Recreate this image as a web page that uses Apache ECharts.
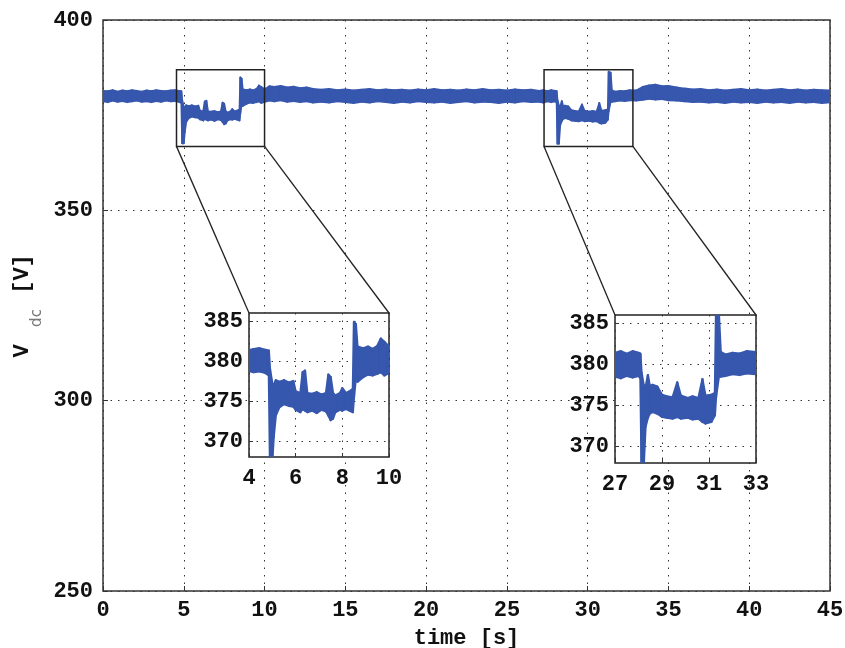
<!DOCTYPE html>
<html>
<head>
<meta charset="utf-8">
<script src="https://cdn.jsdelivr.net/npm/echarts@6/dist/echarts.min.js"></script>
<style>
  html, body { margin: 0; padding: 0; background: #fff; }
  #main { width: 845px; height: 648px; }
</style>
</head>
<body>
<div id="main"></div>
<script>
// time [s] with the lower / upper edge of the Vdc trace [V]
const time = [
  0.0, 0.3, 0.6, 0.9, 1.2, 1.5, 1.8, 2.1, 2.4, 2.7, 3.0, 3.3, 3.6, 3.9, 4.2, 4.45, 4.7, 4.85,
  4.9, 5.0, 5.06, 5.15, 5.3, 5.5, 5.7, 5.9, 6.0, 6.2, 6.3, 6.4, 6.5, 6.7, 6.9, 7.1, 7.3, 7.4,
  7.5, 7.6, 7.7, 7.9, 8.0, 8.15, 8.3, 8.45, 8.5, 8.58, 8.65, 8.9, 9.1, 9.3, 9.5, 9.65, 9.8, 10.0,
  10.3, 10.6, 11.0, 11.4, 11.8, 12.2, 12.6, 13.0, 13.5, 14.0, 14.5, 15.0, 15.5, 16.0, 16.5, 17.0,
  17.5, 18.0, 18.5, 19.0, 19.5, 20.0, 20.5, 21.0, 21.5, 22.0, 22.5, 23.0, 23.5, 24.0, 24.5, 25.0,
  25.5, 26.0, 26.5, 27.0, 27.25, 27.5, 27.75, 28.0, 28.08, 28.13, 28.22, 28.3, 28.4, 28.48, 28.6,
  28.8, 29.0, 29.2, 29.45, 29.65, 29.8, 30.1, 30.3, 30.55, 30.72, 30.85, 31.1, 31.25, 31.3, 31.42,
  31.5, 31.7, 32.0, 32.3, 32.6, 33.0, 33.4, 33.8, 34.2, 34.6, 35.0, 35.5, 36.0, 36.5, 37.0, 37.5,
  38.0, 38.5, 39.0, 39.5, 40.0, 40.5, 41.0, 41.5, 42.0, 42.5, 43.0, 43.5, 44.0, 44.5, 45.0
];
const vLow = [
  378.6, 378.4, 378.8, 378.5, 378.7, 378.4, 378.6, 378.8, 378.5, 378.6, 378.4, 378.7, 378.5, 378.8, 378.6, 378.7, 378.5, 378.2,
  367.6, 367.6, 370.5, 373.2, 374.2, 374.6, 374.4, 374.3, 373.9, 373.6, 374.0, 373.8, 373.6, 373.8, 373.5, 373.9, 373.7, 373.2,
  372.6, 372.8, 373.6, 373.9, 373.8, 374.0, 373.8, 373.6, 375.5, 377.8, 377.4, 378.0, 378.3, 378.2, 378.4, 378.6, 378.2, 378.5,
  378.8, 378.6, 378.9, 378.5, 378.7, 378.4, 378.6, 378.3, 378.5, 378.3, 378.6, 378.4, 378.2, 378.5, 378.3, 378.6,
  378.4, 378.2, 378.5, 378.3, 378.6, 378.4, 378.3, 378.5, 378.2, 378.4, 378.6, 378.3, 378.5, 378.4, 378.2, 378.5,
  378.3, 378.6, 378.4, 378.5, 378.3, 378.6, 378.4, 378.6, 378.3, 367.5, 367.5, 372.4, 373.5, 374.0, 374.2,
  374.0, 373.6, 373.5, 373.4, 373.6, 373.4, 373.5, 373.3, 373.4, 373.0, 372.8, 373.0, 373.8, 376.0, 378.5,
  378.5, 378.6, 378.8, 378.7, 378.9, 378.8, 379.0, 379.3, 379.1, 379.2, 378.9, 378.8, 378.6, 378.4, 378.5, 378.3,
  378.4, 378.2, 378.5, 378.3, 378.4, 378.2, 378.5, 378.3, 378.4, 378.2, 378.5, 378.3, 378.4, 378.2, 378.4
];
const vHigh = [
  381.4, 381.3, 381.6, 381.2, 381.5, 381.3, 381.6, 381.4, 381.2, 381.5, 381.3, 381.6, 381.4, 381.3, 381.5, 381.6, 381.4, 381.3,
  379.0, 377.2, 377.0, 377.6, 377.4, 377.6, 377.3, 377.5, 376.2, 376.0, 378.6, 378.8, 376.0, 375.9, 376.1, 375.8, 376.0, 378.3,
  378.0, 376.0, 375.7, 376.0, 376.6, 376.0, 376.2, 376.5, 384.9, 384.6, 381.8, 381.6, 381.8, 381.5, 381.9, 382.8, 382.4, 381.8,
  382.6, 382.4, 382.7, 382.3, 382.5, 382.1, 382.3, 381.9, 381.7, 381.9, 381.6, 381.8, 381.5, 381.7, 381.9, 381.6,
  381.8, 381.6, 381.7, 381.5, 381.8, 381.6, 381.9, 381.6, 381.7, 381.5, 381.8, 381.6, 381.9, 381.6, 381.7, 381.5,
  381.8, 381.6, 381.7, 381.4, 381.6, 381.3, 381.6, 381.4, 381.3, 379.0, 377.5, 377.2, 378.7, 377.4, 377.5,
  377.3, 376.3, 376.1, 376.0, 377.8, 376.2, 375.9, 376.1, 375.9, 378.2, 376.2, 376.3, 376.5, 386.4, 386.2,
  381.5, 381.2, 381.4, 381.3, 381.6, 381.5, 382.4, 382.8, 383.0, 382.6, 382.7, 382.3, 382.0, 381.8, 381.9, 381.6,
  381.8, 381.5, 381.7, 381.9, 381.6, 381.8, 381.5, 381.7, 381.9, 381.6, 381.8, 381.5, 381.7, 381.6, 381.5
];

// main axis ticks
const mainXTicks = [0, 45, 5];
const mainYTicks = [250, 400, 50];
// zoom windows: [tMin, tMax, vMin, vMax] drawn as boxes on the main plot
const zoomBoxes = [[4.55, 10.0, 366.8, 386.9], [27.3, 32.8, 366.8, 386.9]];
// inset axes
const insetX = [[4, 10], [27, 33]];
const insetXTicks = [[4, 6, 8, 10], [27, 29, 31, 33]];
const insetY = [368, 386];
const insetYTicks = [370, 375, 380, 385];

const blue = '#3657ad';
const font = '"Liberation Mono", "DejaVu Sans Mono", monospace';

const bandData = time.map((t, i) => [t, vLow[i], vHigh[i]]);

function bandSeries(idx, lw) {
  return {
    type: 'custom',
    xAxisIndex: idx,
    yAxisIndex: idx,
    clip: true,
    z: idx === 0 ? 2 : 12,
    encode: { x: 0, y: [1, 2] },
    data: bandData,
    renderItem: function (params, api) {
      const i = params.dataIndex;
      if (i >= time.length - 1) return null;
      const a = api.coord([time[i], vHigh[i]]);
      const b = api.coord([time[i + 1], vHigh[i + 1]]);
      const c = api.coord([time[i + 1], vLow[i + 1]]);
      const d = api.coord([time[i], vLow[i]]);
      return {
        type: 'polygon',
        shape: { points: [a, b, c, d] },
        style: { fill: blue, stroke: blue, lineWidth: lw, lineJoin: 'round' }
      };
    }
  };
}

const dotted = { color: '#333', width: 1, type: [1.5, 6] };
const tickLabel = { color: '#111', fontFamily: font, fontWeight: 'bold', fontSize: 22 };

const option = {
  animation: false,
  backgroundColor: '#fff',
  grid: [
    { left: 103, right: 15, top: 20, bottom: 57, outerBoundsMode: 'none', show: true, borderColor: '#333', borderWidth: 1.5, z: 0 },
    { left: 249, top: 313, width: 140, height: 144, outerBoundsMode: 'none', show: true, backgroundColor: '#fff', borderColor: '#222', borderWidth: 1.5, z: 10 },
    { left: 615, top: 315, width: 141, height: 148, outerBoundsMode: 'none', show: true, backgroundColor: '#fff', borderColor: '#222', borderWidth: 1.5, z: 10 }
  ],
  xAxis: [
    {
      type: 'value', gridIndex: 0, min: mainXTicks[0], max: mainXTicks[1], interval: mainXTicks[2],
      name: 'time [s]', nameLocation: 'middle', nameGap: 36, nameMoveOverlap: false,
      nameTextStyle: { color: '#111', fontFamily: font, fontWeight: 'bold', fontSize: 22 },
      axisLine: { show: false },
      axisTick: { inside: true, length: 5, lineStyle: { color: '#333' } },
      axisLabel: Object.assign({ margin: 8 }, tickLabel),
      splitLine: { show: true, lineStyle: dotted }
    },
    {
      type: 'value', gridIndex: 1, min: insetX[0][0], max: insetX[0][1], z: 11,
      axisLine: { show: false },
      axisTick: { inside: true, length: 4, customValues: insetXTicks[0], lineStyle: { color: '#333' } },
      axisLabel: Object.assign({ margin: 10, customValues: insetXTicks[0] }, tickLabel),
      splitLine: { show: true, lineStyle: dotted }
    },
    {
      type: 'value', gridIndex: 2, min: insetX[1][0], max: insetX[1][1], z: 11,
      axisLine: { show: false },
      axisTick: { inside: true, length: 4, customValues: insetXTicks[1], lineStyle: { color: '#333' } },
      axisLabel: Object.assign({ margin: 10, customValues: insetXTicks[1] }, tickLabel),
      splitLine: { show: true, lineStyle: dotted }
    }
  ],
  yAxis: [
    {
      type: 'value', gridIndex: 0, min: mainYTicks[0], max: mainYTicks[1], interval: mainYTicks[2],
      axisLine: { show: false },
      axisTick: { inside: true, length: 5, lineStyle: { color: '#333' } },
      axisLabel: Object.assign({ margin: 10 }, tickLabel),
      splitLine: { show: true, lineStyle: dotted }
    },
    {
      type: 'value', gridIndex: 1, min: insetY[0], max: insetY[1], z: 11,
      axisLine: { show: false },
      axisTick: { inside: true, length: 4, customValues: insetYTicks, lineStyle: { color: '#333' } },
      axisLabel: Object.assign({ margin: 6, customValues: insetYTicks }, tickLabel),
      splitLine: { show: true, lineStyle: dotted }
    },
    {
      type: 'value', gridIndex: 2, min: insetY[0], max: insetY[1], z: 11,
      axisLine: { show: false },
      axisTick: { inside: true, length: 4, customValues: insetYTicks, lineStyle: { color: '#333' } },
      axisLabel: Object.assign({ margin: 6, customValues: insetYTicks }, tickLabel),
      splitLine: { show: true, lineStyle: dotted }
    }
  ],
  series: [bandSeries(0, 1.8), bandSeries(1, 2.2), bandSeries(2, 2.2)]
};

const chart = echarts.init(document.getElementById('main'));
chart.setOption(option);

// y axis title (V with subscript dc), zoom boxes and connector lines
const gfx = [
  { type: 'text', x: 22, y: 351, rotation: Math.PI / 2, z: 30,
    style: { text: 'V', fill: '#111', font: 'bold 22px ' + font, align: 'center', verticalAlign: 'middle' } },
  { type: 'text', x: 37, y: 318, rotation: Math.PI / 2, z: 30,
    style: { text: 'dc', fill: '#777', font: '15px "DejaVu Sans"', align: 'center', verticalAlign: 'middle' } },
  { type: 'text', x: 22, y: 274, rotation: Math.PI / 2, z: 30,
    style: { text: '[V]', fill: '#111', font: 'bold 22px ' + font, align: 'center', verticalAlign: 'middle' } }
];
zoomBoxes.forEach(function (b, k) {
  const p0 = chart.convertToPixel({ gridIndex: 0 }, [b[0], b[3]]);
  const p1 = chart.convertToPixel({ gridIndex: 0 }, [b[1], b[2]]);
  gfx.push({
    type: 'rect', z: 20,
    shape: { x: p0[0], y: p0[1], width: p1[0] - p0[0], height: p1[1] - p0[1] },
    style: { fill: null, stroke: '#222', lineWidth: 1.5 }
  });
  const c0 = chart.convertToPixel({ gridIndex: k + 1 }, [insetX[k][0], insetY[1]]);
  const c1 = chart.convertToPixel({ gridIndex: k + 1 }, [insetX[k][1], insetY[1]]);
  gfx.push({
    type: 'line', z: 20,
    shape: { x1: p0[0], y1: p1[1], x2: c0[0], y2: c0[1] },
    style: { stroke: '#222', lineWidth: 1.3 }
  });
  gfx.push({
    type: 'line', z: 20,
    shape: { x1: p1[0], y1: p1[1], x2: c1[0], y2: c1[1] },
    style: { stroke: '#222', lineWidth: 1.3 }
  });
});
chart.setOption({ graphic: gfx });
</script>
</body>
</html>
